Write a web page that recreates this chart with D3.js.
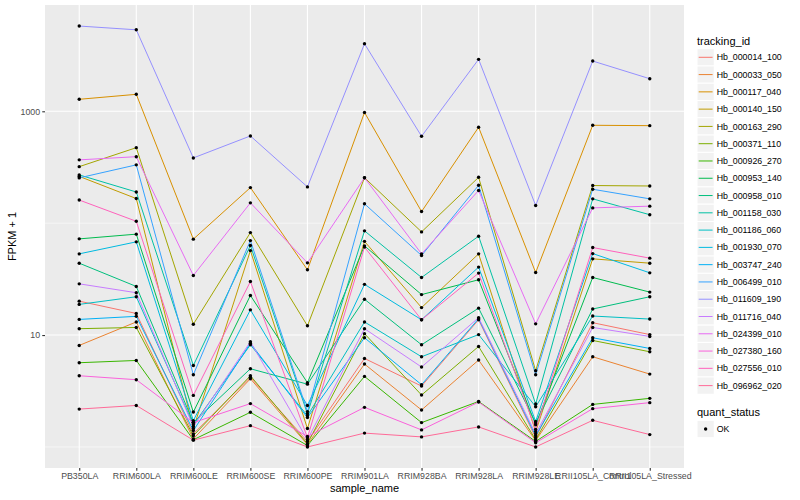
<!DOCTYPE html>
<html><head><meta charset="utf-8">
<script src="https://cdn.jsdelivr.net/npm/d3@7"></script>
<style>body{margin:0;background:#fff}svg{font-family:"Liberation Sans",Arial,Helvetica,sans-serif}</style>
</head><body><svg id="c" width="800" height="500"></svg>
<script>
const samples = ["PB350LA","RRIM600LA","RRIM600LE","RRIM600SE","RRIM600PE","RRIM901LA","RRIM928BA","RRIM928LA","RRIM928LE","RRII105LA_Control","RRII105LA_Stressed"];
const trackingIds = ["Hb_000014_100","Hb_000033_050","Hb_000117_040","Hb_000140_150","Hb_000163_290","Hb_000371_110","Hb_000926_270","Hb_000953_140","Hb_000958_010","Hb_001158_030","Hb_001186_060","Hb_001930_070","Hb_003747_240","Hb_006499_010","Hb_011609_190","Hb_011716_040","Hb_024399_010","Hb_027380_160","Hb_027556_010","Hb_096962_020"];
// FPKM + 1 per sample, one array per tracking_id
const hb_000014_100 = [20.1, 15.6, 1.31, 4.20, 1.12, 6.18, 3.50, 13.7, 1.21, 12.9, 10.1];
const hb_000033_050 = [8.08, 13.1, 1.18, 4.07, 1.05, 5.51, 2.14, 5.98, 1.14, 6.40, 4.48];
const hb_000117_040 = [1280, 1418, 72.0, 208, 38.3, 976, 127, 720, 36.2, 750, 744];
const hb_000140_150 = [262, 166, 1.46, 56.9, 1.46, 68.8, 17.6, 53.2, 1.37, 48.0, 43.9];
const hb_000163_290 = [320, 473, 12.5, 82.4, 12.1, 255, 83.6, 257, 4.80, 217, 215];
const hb_000371_110 = [11.4, 11.7, 1.26, 4.33, 1.07, 10.3, 2.91, 7.91, 1.16, 8.95, 7.09];
const hb_000926_270 = [5.66, 5.93, 1.16, 2.04, 1.03, 4.27, 1.65, 2.55, 1.12, 2.40, 2.72];
const hb_000953_140 = [72.4, 79.8, 2.05, 22.6, 3.75, 62.7, 23.0, 31.2, 1.58, 32.7, 24.2];
const hb_000958_010 = [43.9, 27.2, 1.65, 5.0, 3.64, 20.9, 8.19, 17.4, 1.64, 17.1, 22.0];
const hb_001158_030 = [270, 190, 5.35, 63.1, 1.98, 85.4, 32.7, 76.5, 2.42, 165, 119];
const hb_001186_060 = [18.8, 22.0, 1.58, 8.19, 1.90, 13.1, 6.40, 10.1, 2.29, 14.8, 13.9];
const hb_001930_070 = [53.2, 68.1, 1.72, 16.8, 2.35, 28.4, 13.7, 40.5, 1.69, 53.5, 36.0];
const hb_003747_240 = [13.8, 14.7, 1.40, 8.45, 1.83, 9.46, 3.60, 14.0, 1.26, 9.46, 7.59];
const hb_006499_010 = [254, 332, 4.42, 69.9, 2.07, 149, 51.4, 218, 4.42, 201, 165];
const hb_011609_190 = [5780, 5350, 383, 602, 211, 4015, 598, 2913, 144, 2813, 1955];
const hb_011716_040 = [28.7, 23.9, 1.52, 8.71, 1.16, 11.4, 5.18, 14.3, 1.31, 11.7, 9.72];
const hb_024399_010 = [368, 393, 34.1, 152, 44.2, 255, 53.2, 196, 12.6, 137, 142];
const hb_027380_160 = [4.33, 3.99, 1.65, 2.44, 1.24, 2.26, 1.42, 2.52, 1.09, 2.20, 2.49];
const hb_027556_010 = [161, 104, 2.89, 30.1, 1.21, 61.1, 13.7, 35.8, 1.43, 60.6, 48.7];
const hb_096962_020 = [2.18, 2.35, 1.15, 1.55, 1.00, 1.33, 1.23, 1.51, 1.00, 1.73, 1.29];
const yMajor = [10, 1000];
const yMinor = [1, 100];
const quantStatus = ["OK"];

const seriesValues = [hb_000014_100,hb_000033_050,hb_000117_040,hb_000140_150,hb_000163_290,hb_000371_110,hb_000926_270,hb_000953_140,hb_000958_010,hb_001158_030,hb_001186_060,hb_001930_070,hb_003747_240,hb_006499_010,hb_011609_190,hb_011716_040,hb_024399_010,hb_027380_160,hb_027556_010,hb_096962_020];
const series = trackingIds.map((id,i)=>({id, values: samples.map((s,j)=>({s, v: seriesValues[i][j]}))}));

// ggplot2 hue palette (polar LUV -> sRGB)
function hclLuv(h,c,l){
  const Xn=95.047,Yn=100,Zn=108.883;
  const hr=h*Math.PI/180, U=c*Math.cos(hr), V=c*Math.sin(hr);
  const Y = Yn*(l>7.999592?Math.pow((l+16)/116,3):l/903.3);
  const den=Xn+15*Yn+3*Zn, un=4*Xn/den, vn=9*Yn/den;
  const u=U/(13*l)+un, v=V/(13*l)+vn;
  const X=9*Y*u/(4*v), Z=-X/3-5*Y+3*Y/v;
  const g=t=>{t=t<=0.0031308?12.92*t:1.055*Math.pow(t,1/2.4)-0.055;return Math.round(255*Math.max(0,Math.min(1,t)));};
  const r=g((3.240479*X-1.537150*Y-0.498535*Z)/100);
  const gg=g((-0.969256*X+1.875992*Y+0.041556*Z)/100);
  const b=g((0.055648*X-0.204043*Y+1.057311*Z)/100);
  return d3.rgb(r,gg,b).formatHex();
}
const n=trackingIds.length;
const colors=trackingIds.map((d,i)=>hclLuv(15+360*i/n,100,65));
const color=d3.scaleOrdinal(trackingIds,colors);

const svg=d3.select("#c");
const P={l:45,r:684,t:5,b:468};
const all=seriesValues.flat();
const lo=Math.log10(d3.min(all)), hi=Math.log10(d3.max(all)), ex=0.05*(hi-lo);
const y=d3.scaleLog().domain([Math.pow(10,lo-ex),Math.pow(10,hi+ex)]).range([P.b,P.t]);
const x=d3.scalePoint().domain(samples).range([P.l,P.r]).padding(0.6);

svg.append("rect").attr("x",P.l).attr("y",P.t).attr("width",P.r-P.l).attr("height",P.b-P.t).attr("fill","#EBEBEB");
const grid=svg.append("g");
grid.selectAll(".mn").data(yMinor).join("line").attr("x1",P.l).attr("x2",P.r).attr("y1",d=>y(d)).attr("y2",d=>y(d)).attr("stroke","#fff").attr("stroke-width",0.55);
grid.selectAll(".mj").data(yMajor).join("line").attr("x1",P.l).attr("x2",P.r).attr("y1",d=>y(d)).attr("y2",d=>y(d)).attr("stroke","#fff").attr("stroke-width",1.1);
grid.selectAll(".vx").data(samples).join("line").attr("x1",d=>x(d)).attr("x2",d=>x(d)).attr("y1",P.t).attr("y2",P.b).attr("stroke","#fff").attr("stroke-width",1.1);

const line=d3.line().x(d=>x(d.s)).y(d=>y(d.v));
svg.append("g").selectAll("path").data(series).join("path").attr("d",d=>line(d.values)).attr("fill","none").attr("stroke",d=>color(d.id)).attr("stroke-width",1);
svg.append("g").selectAll("circle").data(series.flatMap(d=>d.values)).join("circle").attr("cx",d=>x(d.s)).attr("cy",d=>y(d.v)).attr("r",1.7).attr("fill","#000");

const ya=svg.append("g").attr("transform",`translate(${P.l},0)`).call(d3.axisLeft(y).tickValues(yMajor).tickFormat(d3.format("d")).tickSize(2.75).tickPadding(2.2));
const xa=svg.append("g").attr("transform",`translate(0,${P.b})`).call(d3.axisBottom(x).tickSize(2.75).tickPadding(2.2));
[ya,xa].forEach(a=>{a.select(".domain").remove();a.selectAll(".tick line").attr("stroke","#333333").attr("stroke-width",1.1);a.selectAll("text").attr("fill","#4D4D4D").style("font-size","8.8px").style("font-family","'Liberation Sans',Arial,sans-serif");});

svg.append("text").attr("x",(P.l+P.r)/2).attr("y",492).attr("text-anchor","middle").style("font-size","11px").text("sample_name");
svg.append("text").attr("transform",`translate(16,${(P.t+P.b)/2}) rotate(-90)`).attr("text-anchor","middle").style("font-size","11px").text("FPKM + 1");

// legends
const lg=svg.append("g");
lg.append("text").attr("x",697).attr("y",44.5).style("font-size","11px").text("tracking_id");
const ks=17.28, k0=57.3;
const items=lg.selectAll(".k").data(trackingIds).join("g").attr("transform",(d,i)=>`translate(697,${k0+i*ks})`);
items.append("rect").attr("x",0).attr("y",-ks/2).attr("width",ks).attr("height",ks).attr("fill","#F2F2F2").attr("stroke","#fff").attr("stroke-width",1);
items.append("line").attr("x1",1.7).attr("x2",ks-1.7).attr("y1",0).attr("y2",0).attr("stroke",d=>color(d)).attr("stroke-width",1);
items.append("text").attr("x",19.7).attr("y",0).attr("dy","0.35em").style("font-size","8.8px").text(d=>d);

lg.append("text").attr("x",697).attr("y",416.3).style("font-size","11px").text("quant_status");
const q=lg.selectAll(".q").data(quantStatus).join("g").attr("transform",(d,i)=>`translate(697,${429+i*ks})`);
q.append("rect").attr("x",0).attr("y",-ks/2).attr("width",ks).attr("height",ks).attr("fill","#F2F2F2").attr("stroke","#fff");
q.append("circle").attr("cx",ks/2).attr("cy",0).attr("r",1.7).attr("fill","#000");
q.append("text").attr("x",19.7).attr("y",0).attr("dy","0.35em").style("font-size","8.8px").text(d=>d);
</script></body></html>
